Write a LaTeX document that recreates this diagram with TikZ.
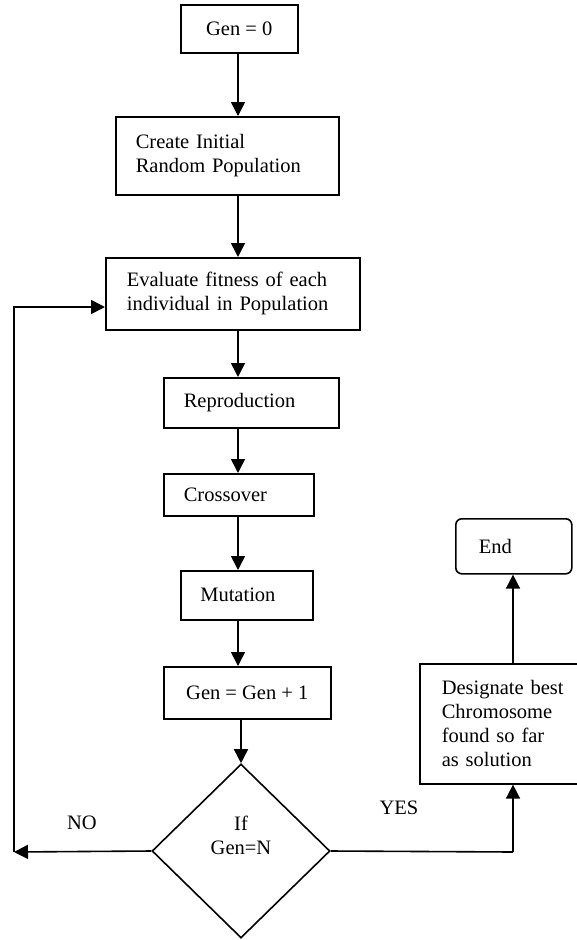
\documentclass[tikz,border=0pt]{standalone}
\usepackage{fontspec}
\setmainfont{Liberation Serif}
\usetikzlibrary{arrows.meta,shapes.geometric}
\begin{document}
\begin{tikzpicture}[x=1pt,y=-1pt,
  every node/.style={font=\fontsize{20.5}{24}\selectfont},
  box/.style={draw, line width=1.6pt, rectangle, inner ysep=0pt, anchor=north west},
  lbox/.style 2 args={box, align=left, inner xsep=#1, text width=#2},
  cbox/.style={box, align=center, inner xsep=0pt},
  arr/.style={line width=1.6pt, -{Triangle[length=14pt,width=14pt]}},
  ln/.style={line width=1.6pt}]
\useasboundingbox (0,0) rectangle (576,940);

\node[cbox, minimum width=117pt, minimum height=48pt] (gen0) at (180,4) {Gen = 0};
\node[lbox={20pt}{183pt}, minimum height=78pt] (create) at (115,116) {Create Initial\\Random Population};
\node[lbox={21pt}{212pt}, minimum height=72pt] (eval) at (105,257) {Evaluate fitness of each\\individual in Population};
\node[lbox={20pt}{135pt}, minimum height=50pt] (repro) at (163,377) {Reproduction};
\node[lbox={20pt}{110pt}, minimum height=42pt] (cross) at (163,473) {Crossover};
\node[lbox={19.5pt}{93pt}, minimum height=49pt] (mut) at (180,570) {Mutation};
\node[cbox, minimum width=167pt, minimum height=52pt] (gen1) at (163,666) {Gen = Gen + 1};
\node[draw, diamond, line width=1.6pt, minimum width=178pt, minimum height=174pt, inner sep=0pt, align=center] (dec) at (241,851) {If\\Gen=N\\\strut};
\node[lbox={22pt}{130pt}, minimum height=120pt] (design) at (419,663) {Designate best\\Chromosome\\found so far\\as solution};
\node[box, rounded corners=6pt, align=left, inner xsep=23pt, text width=70pt, minimum height=55pt] (end) at (455,518) {End};

\node (no) at (82,823) {NO};
\node (yes) at (399,808) {YES};

\coordinate (col) at (238,0);
\coordinate (col2) at (513,0);
\coordinate (fbb) at (14,852);
\coordinate (fbt) at (14,307);
\coordinate (yc) at (513,852);

\draw[arr] (col |- gen0.south) -- (col |- create.north);
\draw[arr] (col |- create.south) -- (col |- eval.north);
\draw[arr] (col |- eval.south) -- (col |- repro.north);
\draw[arr] (col |- repro.south) -- (col |- cross.north);
\draw[arr] (col |- cross.south) -- (col |- mut.north);
\draw[arr] (col |- mut.south) -- (col |- gen1.north);
\draw[arr] (dec.north |- gen1.south) -- (dec.north);
\draw[arr] (dec.west) -- (fbb);
\draw[arr] (fbb) -- (fbt) -- (fbt -| eval.west);
\draw[ln] (dec.east) -- (yc);
\draw[arr] (yc) -- (yc |- design.south);
\draw[arr] (col2 |- design.north) -- (col2 |- end.south);
\end{tikzpicture}
\end{document}
